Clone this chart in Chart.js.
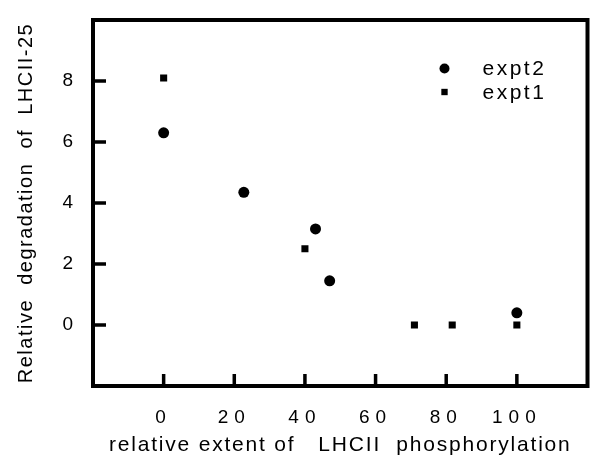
<!DOCTYPE html>
<html>
<head>
<meta charset="utf-8">
<script src="https://cdn.jsdelivr.net/npm/chart.js@4.4.1/dist/chart.umd.min.js"></script>
<style>
  html, body { margin: 0; padding: 0; background: #fff; }
</style>
</head>
<body>
<canvas id="chart" width="593" height="459"></canvas>
<script>
// expt2 (round markers)
const expt2X = [0, 22.7, 43, 47, 100];
const expt2Y = [6.3, 4.35, 3.15, 1.45, 0.4];
// expt1 (square markers)
const expt1X = [0, 40, 71, 81.7, 100];
const expt1Y = [8.1, 2.5, 0, 0, 0];

const xTicks = [0, 20, 40, 60, 80, 100];
const yTicks = [0, 2, 4, 6, 8];
const xTitle = 'relative extent of   LHCII  phosphorylation';
const yTitle = 'Relative  degradation  of  LHCII-25';
const legendLabels = ['expt2', 'expt1'];

const FONT = "'Liberation Sans', Arial, Helvetica, sans-serif";
const INK = '#000';

function toPoints(xs, ys) {
  return xs.map((x, i) => ({ x, y: ys[i] }));
}

// Chart.js has no letter spacing option, so set it on the context around the scale draw steps
function spaced(fn, spacing) {
  return function (...args) {
    const prev = this.ctx.letterSpacing;
    this.ctx.letterSpacing = spacing;
    fn.apply(this, args);
    this.ctx.letterSpacing = prev;
  };
}

const spacingPlugin = {
  id: 'spacing',
  beforeDraw(chart) {
    const { x, y } = chart.scales;
    if (x._spaced) return;
    x.drawLabels = spaced(x.drawLabels, '6px');
    x.drawTitle = spaced(x.drawTitle, '1.8px');
    y.drawTitle = spaced(y.drawTitle, '1.5px');
    x._spaced = true;
  },
};

// Boxed frame, inward tick marks and the legend inside the plot
const framePlugin = {
  id: 'frame',
  afterDraw(chart) {
    const { ctx, chartArea: a, scales: { x, y } } = chart;
    ctx.save();
    ctx.strokeStyle = INK;
    ctx.lineWidth = 4;
    ctx.strokeRect(a.left, a.top, a.right - a.left, a.bottom - a.top);

    ctx.lineWidth = 3.5;
    ctx.beginPath();
    x.ticks.forEach((t) => {
      const px = x.getPixelForValue(t.value);
      ctx.moveTo(px, a.bottom);
      ctx.lineTo(px, a.bottom - 12);
    });
    y.ticks.forEach((t) => {
      const py = y.getPixelForValue(t.value);
      ctx.moveTo(a.left, py);
      ctx.lineTo(a.left + 13, py);
    });
    ctx.stroke();

    // legend
    const lx = a.right - 143;
    const ly = [a.top + 48.5, a.top + 72];
    ctx.fillStyle = INK;
    ctx.font = `21px ${FONT}`;
    ctx.textBaseline = 'middle';
    ctx.textAlign = 'left';
    ctx.letterSpacing = '2.5px';
    chart.data.datasets.forEach((ds, i) => {
      Chart.helpers.drawPoint(ctx, {
        pointStyle: ds.pointStyle,
        radius: ds.pointStyle === 'rect' ? 4.5 : 5,
        rotation: 0,
        borderWidth: 0,
      }, lx, ly[i]);
      ctx.fillText(legendLabels[i], lx + 38, ly[i] + 1);
    });
    ctx.restore();
  },
};

// eslint-disable-next-line no-new
new Chart(document.getElementById('chart'), {
  type: 'scatter',
  data: {
    datasets: [
      {
        label: legendLabels[0],
        data: toPoints(expt2X, expt2Y),
        pointStyle: 'circle',
        pointRadius: 5.5,
        pointHoverRadius: 5.5,
        backgroundColor: INK,
        borderColor: INK,
        borderWidth: 0,
      },
      {
        label: legendLabels[1],
        data: toPoints(expt1X, expt1Y),
        pointStyle: 'rect',
        pointRadius: 5,
        pointHoverRadius: 5,
        backgroundColor: INK,
        borderColor: INK,
        borderWidth: 0,
      },
    ],
  },
  options: {
    responsive: false,
    animation: false,
    devicePixelRatio: 1,
    layout: {
      padding: { left: 0, right: 3.5, top: 20, bottom: 0 },
    },
    plugins: {
      legend: { display: false },
      tooltip: { enabled: false },
    },
    scales: {
      x: {
        type: 'linear',
        min: -20,
        max: 120,
        afterBuildTicks: (scale) => {
          scale.ticks = xTicks.map((v) => ({ value: v }));
        },
        afterFit: (scale) => {
          scale.height = 73;
          scale.paddingLeft = 0;
          scale.paddingRight = 0;
        },
        grid: { display: false, drawTicks: false },
        border: { display: false },
        ticks: {
          color: INK,
          padding: 20,
          maxRotation: 0,
          autoSkip: false,
          font: { family: FONT, size: 19 },
        },
        title: {
          display: true,
          text: xTitle,
          color: INK,
          padding: { top: 0, bottom: 1 },
          font: { family: FONT, size: 21 },
        },
      },
      y: {
        type: 'linear',
        min: -2,
        max: 10,
        afterBuildTicks: (scale) => {
          scale.ticks = yTicks.map((v) => ({ value: v }));
        },
        afterFit: (scale) => {
          scale.width = 93;
          scale.paddingTop = 0;
          scale.paddingBottom = 0;
        },
        grid: { display: false, drawTicks: false },
        border: { display: false },
        ticks: {
          color: INK,
          padding: 20,
          font: { family: FONT, size: 19 },
        },
        title: {
          display: true,
          text: yTitle,
          color: INK,
          padding: { top: 14, bottom: 0 },
          font: { family: FONT, size: 20 },
        },
      },
    },
  },
  plugins: [spacingPlugin, framePlugin],
});
</script>
</body>
</html>
